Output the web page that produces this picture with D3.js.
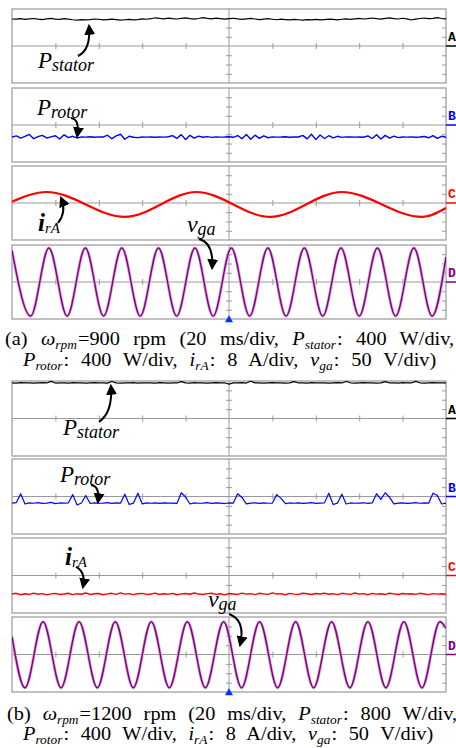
<!DOCTYPE html>
<html>
<head>
<meta charset="utf-8">
<script src="https://cdn.jsdelivr.net/npm/d3@7"></script>
<style>
  body { margin: 0; background: #fff; }
  svg { display: block; }
</style>
</head>
<body>
<div id="scope"></div>
<script>
// ---- values (vertical unit = 1 minor division) ----
const timeDomain = [0, 200];                 // 10 div x 20 ms
const gridTimes = [20, 40, 60, 80, 120, 140, 160, 180];
const gridLevels = [-3, -2, -1, 1, 2, 3];
const sampleStep = 2;                        // ms between noise samples

// (a) 900 rpm
const statorA = [2.92,2.90,2.95,2.88,2.93,2.97,2.90,2.86,2.94,2.99,2.91,2.88,2.95,2.90,2.84,2.80,2.86,2.82,2.85,2.92,
  2.89,2.83,2.86,2.90,2.85,2.80,2.84,2.88,2.82,2.86,2.93,2.89,2.95,3.05,2.98,2.94,3.02,2.96,2.92,2.99,
  3.04,2.95,2.90,2.97,3.06,2.98,2.93,3.01,2.95,2.90,2.96,3.00,2.93,2.88,2.94,2.99,2.92,2.86,2.91,2.95,
  2.89,2.84,2.90,2.86,2.82,2.87,2.84,2.80,2.85,2.83,2.88,2.82,2.86,2.91,2.87,2.83,2.89,2.94,2.88,2.93,
  2.99,2.92,2.96,3.03,2.95,2.90,2.98,3.05,2.96,2.92,3.00,2.94,2.81,2.90,2.97,3.03,2.95,2.99,3.06,2.97,2.93];
const rotorA = [-1.30,-1.18,-1.42,-1.22,-1.02,-1.48,-1.25,-1.12,-1.40,-1.28,-1.16,-1.52,-1.06,-1.36,-1.22,-1.40,-1.29,-1.31,-1.27,-1.33,
  -1.28,-1.30,-1.10,-1.48,-1.18,-1.00,-1.54,-1.22,-1.32,-1.36,-1.29,-1.31,-1.30,-1.33,-1.28,-1.31,-1.27,-1.15,-1.44,-1.04,
  -1.56,-1.12,-1.42,-1.20,-1.32,-1.26,-1.34,-1.28,-1.31,-1.30,-1.27,-1.33,-1.14,-1.48,-1.02,-1.54,-1.10,-1.44,-1.18,-1.38,
  -1.28,-1.31,-1.30,-1.27,-1.32,-1.29,-1.30,-1.12,-1.50,-1.00,-1.58,-1.08,-1.46,-1.16,-1.40,-1.22,-1.34,-1.28,-1.30,-1.31,
  -1.29,-1.32,-1.18,-1.46,-1.05,-1.52,-1.12,-1.42,-1.20,-1.36,-1.29,-1.31,-1.28,-1.33,-1.30,-1.24,-1.38,-1.15,-1.44,-1.22,-1.32];
const irATimes = [0, 16, 52, 85, 119, 152, 189, 200];
const irAValues = [0.14, 1.19, -1.51, 1.19, -1.51, 1.19, -1.51, -0.54];
const vgaATimes = [0, 8.6, 17.0, 25.4, 33.8, 42.2, 50.6, 59.1, 67.5, 75.9, 84.3, 92.7, 101.1,
  109.5, 117.9, 126.3, 134.7, 143.2, 151.6, 160.0, 168.4, 176.8, 185.2, 193.6, 200];
const vgaAValues = [3.4, -3.68, 3.68, -3.68, 3.68, -3.68, 3.68, -3.68, 3.68, -3.68, 3.68, -3.68, 3.68,
  -3.68, 3.68, -3.68, 3.68, -3.68, 3.68, -3.68, 3.68, -3.68, 3.68, -3.68, 2.7];

// (b) 1200 rpm
const statorB = [3.80,3.78,3.82,3.79,3.81,3.77,3.80,3.83,3.79,3.96,3.78,3.81,3.80,3.77,3.82,3.79,3.81,3.78,3.80,3.82,
  3.79,3.81,3.78,3.95,3.80,3.77,3.81,3.79,3.82,3.78,3.80,3.79,3.81,3.78,3.82,3.80,3.77,3.81,3.79,3.93,
  3.80,3.78,3.82,3.79,3.81,3.78,3.80,3.82,3.79,3.81,3.66,3.80,3.79,3.82,3.78,3.97,3.80,3.81,3.78,3.80,
  3.82,3.79,3.81,3.78,3.80,3.94,3.79,3.81,3.78,3.82,3.80,3.79,3.81,3.78,3.80,3.82,3.79,3.95,3.81,3.78,
  3.80,3.82,3.79,3.81,3.78,3.80,3.93,3.79,3.81,3.78,3.82,3.80,3.79,3.96,3.81,3.78,3.80,3.82,3.79,3.81,3.80];
const rotorB = [-0.70,-0.65,0.30,-0.80,-0.68,-0.72,-0.66,-0.74,-0.70,-0.62,-0.76,-0.69,-0.71,-0.67,0.20,-0.90,-0.70,0.10,-0.75,-0.68,
  -0.72,-0.70,-0.66,-0.74,-0.69,-0.71,0.25,-0.85,-0.70,0.35,-0.78,-0.68,-0.72,-0.69,-0.73,-0.67,-0.71,-0.70,-0.74,0.40,
  -0.05,-0.80,-0.68,-0.72,-0.70,-0.66,-0.74,-0.69,-0.71,-0.75,-0.68,-0.70,0.30,-0.10,-0.78,-0.70,-0.67,-0.73,-0.69,-0.72,
  -0.70,0.20,-0.20,-0.76,-0.69,-0.72,-0.68,-0.74,-0.70,-0.66,-0.73,-0.70,-0.68,0.35,-0.85,-0.70,0.25,-0.80,-0.69,-0.72,
  -0.70,-0.67,-0.74,-0.69,0.30,-0.30,0.40,-0.10,-0.78,-0.70,-0.68,-0.73,-0.70,-0.66,-0.72,-0.69,-0.71,0.35,0.10,-0.80,-0.70];
const irB = [-1.98,-1.90,-2.05,-1.95,-2.02,-1.88,-2.00,-1.93,-2.06,-1.96,-1.91,-2.03,-1.97,-1.89,-2.04,-1.94,-2.00,-1.87,-2.02,-1.95,
  -1.92,-2.05,-1.96,-1.90,-2.01,-1.86,-1.99,-1.93,-2.04,-1.95,-1.91,-2.02,-1.97,-1.88,-2.03,-1.94,-1.99,-1.90,-2.05,-1.96,
  -1.92,-2.00,-1.87,-1.98,-2.03,-1.93,-1.89,-2.01,-1.95,-2.06,-1.91,-1.97,-2.02,-1.88,-1.99,-1.94,-2.04,-1.90,-1.96,-2.01,
  -1.86,-1.98,-1.93,-2.05,-1.91,-1.99,-2.02,-1.89,-1.95,-2.03,-1.92,-1.97,-1.88,-2.00,-1.94,-2.04,-1.90,-1.96,-2.01,-1.87,
  -1.98,-1.93,-2.05,-1.91,-1.99,-1.95,-2.02,-1.89,-1.96,-2.03,-1.92,-1.98,-1.94,-2.01,-1.90,-1.97,-2.04,-1.93,-1.99,-1.95,-2.00];
const vgaBTimes = [0, 6.0, 14.3, 22.6, 30.9, 39.3, 47.6, 55.9, 64.2, 72.5, 80.8, 89.1, 97.5,
  105.8, 114.1, 122.4, 130.7, 139.0, 147.3, 155.7, 164.0, 172.3, 180.6, 188.9, 197.2, 200];
const vgaBValues = [1.9, -3.55, 3.5, -3.55, 3.5, -3.55, 3.5, -3.55, 3.5, -3.55, 3.5, -3.55, 3.5,
  -3.55, 3.5, -3.55, 3.5, -3.55, 3.5, -3.55, 3.5, -3.55, 3.5, -3.55, 3.5, 2.8];

const channelNames = ["A", "B", "C", "D"];
const channelColors = ["#000000", "#0000ff", "#ff0000", "#800080"];

const captionA = [
  [["(a) ", "n"], ["ω", "i"], ["rpm", "s"], ["=900 rpm (20 ms/div, ", "n"], ["P", "i"], ["stator", "s"], [": 400 W/div,", "n"]],
  [["P", "i"], ["rotor", "s"], [": 400 W/div, ", "n"], ["i", "i"], ["rA", "s"], [": 8 A/div, ", "n"], ["v", "i"], ["ga", "s"], [": 50 V/div)", "n"]]
];
const captionB = [
  [["(b) ", "n"], ["ω", "i"], ["rpm", "s"], ["=1200 rpm (20 ms/div, ", "n"], ["P", "i"], ["stator", "s"], [": 800 W/div,", "n"]],
  captionA[1]
];

// ---- layout ----
const W = 456, H = 748;
const xLeft = 12, xRight = 446;
const serif = "'Liberation Serif', 'Times New Roman', serif";
const stretch = 1.07;  // the capture is a little wider than it is tall, text included

const x = d3.scaleLinear().domain(timeDomain).range([xLeft, xRight]);

const panels = [
  {
    tops: [9, 88, 166, 245], h: 74,
    traces: [
      { s: 0, pts: statorA.map((v, i) => [i * sampleStep, v]), w: 1.2 },
      { s: 1, pts: rotorA.map((v, i) => [i * sampleStep, v]), w: 1.4 },
      { s: 2, pts: irATimes.map((t, i) => [t, irAValues[i]]), w: 2.2, smooth: true },
      { s: 3, pts: vgaATimes.map((t, i) => [t, vgaAValues[i]]), w: 1.4, smooth: true, halo: "#d9a6d9" }
    ],
    notes: [
      { s: 0, t: 12.0, v: -2.38, main: "P", sub: "stator", kind: "P", arrowS: 0, arrow: [[30.4, -1.08], [36.4, -0.43], [35.5, 2.16]] },
      { s: 1, t: 11.5, v: 1.08, main: "P", sub: "rotor", kind: "P", arrowS: 1, arrow: [[27.2, 0.76], [31.3, 0.65], [30.0, -1.19]] },
      { s: 2, t: 12.0, v: -3.03, main: "i", sub: "rA", kind: "i", arrowS: 2, arrow: [[21.2, -2.16], [25.3, -0.97], [22.6, 0.54]] },
      { s: 2, t: 80.6, v: -3.14, main: "v", sub: "ga", kind: "v", arrowS: 3, arrow: [[86.2, 4.65], [93.1, 4.22], [92.2, 1.51]] }
    ],
    caption: captionA, capY: [345, 366], capX: [[5, 452], [23, 433]]
  },
  {
    tops: [381, 459, 538, 617], h: 75,
    traces: [
      { s: 0, pts: statorB.map((v, i) => [i * sampleStep, v]), w: 1.2 },
      { s: 1, pts: rotorB.map((v, i) => [i * sampleStep, v]), w: 1.2 },
      { s: 2, pts: irB.map((v, i) => [i * sampleStep, v]), w: 1.4 },
      { s: 3, pts: vgaBTimes.map((t, i) => [t, vgaBValues[i]]), w: 1.4, smooth: true, halo: "#d9a6d9" }
    ],
    notes: [
      { s: 0, t: 23.5, v: -1.76, main: "P", sub: "stator", kind: "P", arrowS: 0, arrow: [[40.1, -0.37], [46.5, 0.69], [45.6, 3.47]] },
      { s: 1, t: 22.1, v: 1.55, main: "P", sub: "rotor", kind: "P", arrowS: 1, arrow: [[36.4, 1.23], [40.6, 1.12], [39.6, -0.59]] },
      { s: 2, t: 24.4, v: 1.12, main: "i", sub: "rA", kind: "i", arrowS: 2, arrow: [[29.5, 0.91], [34.1, 0.37], [32.7, -1.23]] },
      { s: 2, t: 90.3, v: -3.36, main: "v", sub: "ga", kind: "v", arrowS: 3, arrow: [[100.0, 4.32], [107.8, 3.68], [105.1, 1.01]] }
    ],
    caption: captionB, capY: [720, 740], capX: [[7, 455], [23, 430]]
  }
];

const labelStyle = {
  P: { size: 23, subSize: 18, dy: 3, weight: "normal" },
  i: { size: 25, subSize: 15, dy: 2, weight: "bold" },
  v: { size: 24, subSize: 18, dy: 3, weight: "normal" }
};

const svg = d3.select("#scope").append("svg").attr("width", W).attr("height", H);

svg.append("defs").append("marker")
  .attr("id", "head")
  .attr("viewBox", "0 0 10 10")
  .attr("refX", 8).attr("refY", 5)
  .attr("markerWidth", 11).attr("markerHeight", 11)
  .attr("markerUnits", "userSpaceOnUse")
  .attr("orient", "auto")
  .append("path").attr("d", "M0,0 L10,5 L0,10 Z").attr("fill", "#000");

function tickAxis(g, axis, transform) {
  g.append("g")
    .attr("transform", transform)
    .attr("color", "#999")
    .call(axis)
    .call(a => a.select(".domain").remove());
}

function drawStrip(g, top, h, idx) {
  const y = d3.scaleLinear().domain([-4, 4]).range([top + h, top]);
  const yc = y(0);

  g.append("rect")
    .attr("x", xLeft).attr("y", top)
    .attr("width", xRight - xLeft).attr("height", h)
    .attr("fill", "#fff").attr("stroke", "#adadad").attr("stroke-width", 1.5);

  g.append("line")
    .attr("x1", xLeft).attr("x2", xRight).attr("y1", yc).attr("y2", yc)
    .attr("stroke", "#9a9a9a").attr("stroke-width", 1);
  g.append("line")
    .attr("x1", x(100)).attr("x2", x(100)).attr("y1", top).attr("y2", top + h)
    .attr("stroke", "#9a9a9a").attr("stroke-width", 1);

  // division ticks on the centre lines and the right edge
  tickAxis(g, d3.axisBottom(x).tickValues(gridTimes).tickSize(3).tickFormat(""), `translate(0,${yc})`);
  tickAxis(g, d3.axisTop(x).tickValues(gridTimes).tickSize(3).tickFormat(""), `translate(0,${yc})`);
  tickAxis(g, d3.axisLeft(y).tickValues(gridLevels).tickSize(3).tickFormat(""), `translate(${x(100)},0)`);
  tickAxis(g, d3.axisRight(y).tickValues(gridLevels).tickSize(3).tickFormat(""), `translate(${x(100)},0)`);
  tickAxis(g, d3.axisLeft(y).tickValues(gridLevels).tickSize(4).tickFormat(""), `translate(${xRight},0)`);

  // channel tag
  g.append("text")
    .attr("x", xRight + 2).attr("y", yc - 5)
    .attr("font-family", "'Liberation Mono', 'DejaVu Sans Mono', monospace")
    .attr("font-weight", "bold").attr("font-size", 13)
    .attr("fill", channelColors[idx])
    .text(channelNames[idx]);
  g.append("line")
    .attr("x1", xRight).attr("x2", W).attr("y1", yc).attr("y2", yc)
    .attr("stroke", channelColors[idx]).attr("stroke-width", 1.5);

  return y;
}

function caption(yBase, x0, x1, parts) {
  const t = svg.append("text")
    .attr("transform", `translate(${x0},${yBase}) scale(${stretch},1)`)
    .attr("font-family", serif).attr("font-size", 19).attr("fill", "#000");
  let shifted = false;
  parts.forEach(([s, kind]) => {
    const ts = t.append("tspan").text(s);
    if (kind !== "n") ts.attr("font-style", "italic");
    if (kind === "s") {
      ts.attr("font-size", 12.5).attr("dy", 4);
      shifted = true;
    } else if (shifted) {
      ts.attr("dy", -4).attr("dx", 1);
      shifted = false;
    }
  });
  const len = t.node().getComputedTextLength();
  const gaps = parts.map(p => p[0]).join("").split(" ").length - 1;
  if (gaps > 0) t.attr("word-spacing", ((x1 - x0) / stretch - len) / gaps);
}

panels.forEach((p, pi) => {
  const g = svg.append("g").attr("class", "panel-" + pi);
  const ys = p.tops.map((top, i) => drawStrip(g, top, p.h, i));

  // clip each trace to its strip
  p.tops.forEach((top, i) => {
    svg.select("defs").append("clipPath").attr("id", `clip-${pi}-${i}`)
      .append("rect").attr("x", xLeft).attr("y", top - 1).attr("width", xRight - xLeft).attr("height", p.h + 2);
  });

  p.traces.forEach(tr => {
    const line = d3.line()
      .x(d => x(d[0]))
      .y(d => ys[tr.s](d[1]))
      .curve(tr.smooth ? d3.curveMonotoneX : d3.curveLinear);
    if (tr.halo) {
      g.append("path").datum(tr.pts)
        .attr("clip-path", `url(#clip-${pi}-${tr.s})`)
        .attr("d", line).attr("fill", "none")
        .attr("stroke", tr.halo).attr("stroke-width", 3);
    }
    g.append("path").datum(tr.pts)
      .attr("clip-path", `url(#clip-${pi}-${tr.s})`)
      .attr("d", line).attr("fill", "none")
      .attr("stroke", channelColors[tr.s]).attr("stroke-width", tr.w)
      .attr("stroke-linejoin", "round");
  });

  // trigger marker
  const lastBottom = p.tops[3] + p.h;
  g.append("path")
    .attr("d", d3.symbol(d3.symbolTriangle).size(28))
    .attr("transform", `translate(${x(100)},${lastBottom + 1})`)
    .attr("fill", "#0033ff");

  // signal labels + arrows
  p.notes.forEach(n => {
    const st = labelStyle[n.kind];
    const t = g.append("text")
      .attr("x", x(n.t)).attr("y", ys[n.s](n.v))
      .attr("font-family", serif).attr("font-style", "italic").attr("fill", "#000");
    t.append("tspan").attr("font-size", st.size).attr("font-weight", st.weight).text(n.main);
    t.append("tspan").attr("font-size", st.subSize).attr("dy", st.dy).text(n.sub);

    const pts = n.arrow.map(d => [x(d[0]), ys[n.arrowS](d[1])]);
    const path = d3.path();
    path.moveTo(pts[0][0], pts[0][1]);
    path.quadraticCurveTo(pts[1][0], pts[1][1], pts[2][0], pts[2][1]);
    g.append("path")
      .attr("d", path.toString())
      .attr("fill", "none").attr("stroke", "#000").attr("stroke-width", 2)
      .attr("marker-end", "url(#head)");
  });

  p.caption.forEach((parts, li) => caption(p.capY[li], p.capX[li][0], p.capX[li][1], parts));
});
</script>
</body>
</html>
